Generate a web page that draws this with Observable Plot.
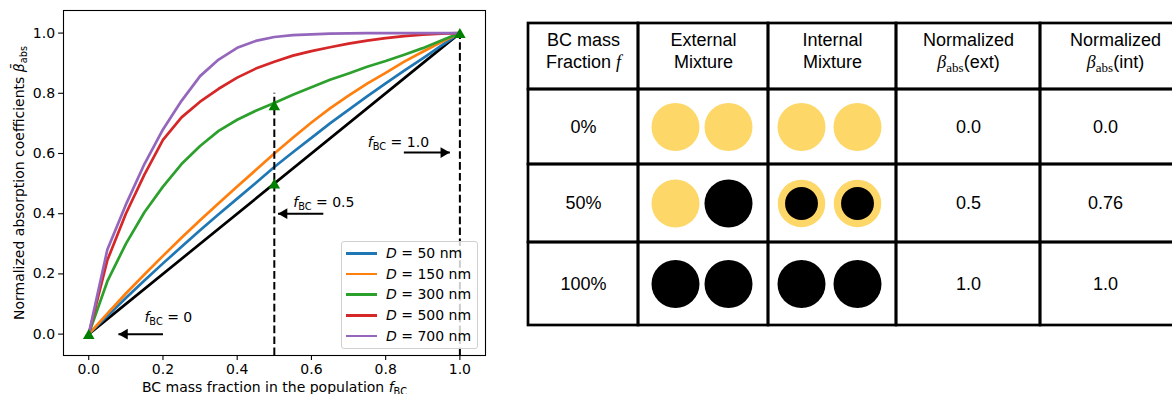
<!DOCTYPE html>
<html><head><meta charset="utf-8">
<script src="https://cdn.jsdelivr.net/npm/d3@7"></script>
<script src="https://cdn.jsdelivr.net/npm/@observablehq/plot@0.6"></script>
<style>
html,body{margin:0;padding:0;background:#fff;overflow:hidden;}
#wrap{position:relative;width:1172px;height:394px;}
#chart{position:absolute;left:0;top:0;}
#table{position:absolute;left:500px;top:0;}
#legend{position:absolute;left:341px;top:241px;width:135px;height:106px;border:1px solid #d0d0d0;border-radius:3px;background:rgba(255,255,255,0.8);font-family:"DejaVu Sans";font-size:14px;color:#000;}
#legend .row{position:absolute;left:0;height:20px;width:100%;}
#legend .sw{position:absolute;left:4px;top:9px;width:31px;height:2.7px;}
#legend .lb{position:absolute;left:44px;top:1px;white-space:nowrap;line-height:18px;}
</style></head><body>
<div id="wrap"><div id="chart"></div><div id="legend"></div><div id="table"></div></div>
<script>
// ---------- DATA ----------
const fGrid   = [0, 0.05, 0.1, 0.15, 0.2, 0.25, 0.3, 0.35, 0.4, 0.45, 0.5, 0.55, 0.6, 0.65, 0.7, 0.75, 0.8, 0.85, 0.9, 0.95, 1];
const diameters = [50, 150, 300, 500, 700];
const beta50  = [0, 0.06, 0.12, 0.178, 0.235, 0.29, 0.345, 0.398, 0.45, 0.502, 0.555, 0.604, 0.652, 0.70, 0.745, 0.79, 0.833, 0.875, 0.916, 0.958, 1];
const beta150 = [0, 0.068, 0.135, 0.198, 0.26, 0.32, 0.378, 0.435, 0.49, 0.545, 0.6, 0.652, 0.703, 0.75, 0.792, 0.832, 0.868, 0.905, 0.938, 0.97, 1];
const beta300 = [0, 0.175, 0.30, 0.405, 0.49, 0.565, 0.625, 0.675, 0.712, 0.742, 0.768, 0.795, 0.82, 0.845, 0.866, 0.888, 0.907, 0.928, 0.95, 0.975, 1];
const beta500 = [0, 0.245, 0.40, 0.53, 0.645, 0.72, 0.772, 0.815, 0.852, 0.882, 0.905, 0.925, 0.94, 0.953, 0.965, 0.975, 0.983, 0.99, 0.995, 0.998, 1];
const beta700 = [0, 0.28, 0.43, 0.565, 0.68, 0.775, 0.857, 0.912, 0.951, 0.974, 0.987, 0.993, 0.996, 0.998, 0.999, 1, 1, 1, 1, 1, 1];
const externalLine = [0, 1];            // linear external-mixture reference, at f = 0 and 1
const markerF    = [0, 0.5, 0.5, 1];    // green triangle markers
const markerBeta = [0, 0.5, 0.76, 1];
const guideF   = [0.5, 1.0];            // dashed verticals
const guideTop = [0.8, 1.0];
const annLabels = ["*f*_{BC} = 0", "*f*_{BC} = 0.5", "*f*_{BC} = 1.0"];
const annTextF  = [0.15, 0.551, 0.752];
const annTextB  = [0.056, 0.438, 0.638];
const arrowFrom = [0.2, 0.632, 0.849];
const arrowTo   = [0.08, 0.51, 0.973];
const arrowB    = [0, 0.40, 0.603];
const xTicks = [0, 0.2, 0.4, 0.6, 0.8, 1.0];
const yTicks = [0, 0.2, 0.4, 0.6, 0.8, 1.0];
const xLabel = "BC mass fraction in the population *f*_{BC}";
const yLabel = "Normalized absorption coefficients *β\u0304*_{abs}";

// table data
const tableHeaders = ["BC mass\nFraction *f*", "External\nMixture", "Internal\nMixture", "Normalized\n*β*_{abs}(ext)", "Normalized\n*β*_{abs}(int)"];
const fractions = ["0%", "50%", "100%"];
const externalParticles = [["shell", "shell"], ["shell", "bc"], ["bc", "bc"]];
const internalParticles = [["shell", "shell"], ["coated", "coated"], ["bc", "bc"]];
const betaExt = ["0.0", "0.5", "1.0"];
const betaInt = ["0.0", "0.76", "1.0"];

// ---------- STYLE / LAYOUT ----------
const lineColors = ["#1f77b4", "#ff7f0e", "#2ca02c", "#d62728", "#9467bd"];
const yellow = "#fdd768";
const colW = [110, 130, 128, 144, 150];
const rowH = [66, 75, 78, 83];

const NS = "http://www.w3.org/2000/svg";
function richify(root, o) {
  const nodes = Array.from(root.querySelectorAll("text, tspan"));
  for (const node of nodes) {
    if (node.children.length) continue;
    const s = node.textContent;
    if (!/\*|_\{/.test(s)) continue;
    const parts = s.split(/(\*[^*]+\*|_\{[^}]+\})/).filter(p => p !== "");
    node.textContent = "";
    let shift = 0;
    for (const p of parts) {
      const t = document.createElementNS(NS, "tspan");
      let target = 0;
      if (p[0] === "*") {
        t.textContent = p.slice(1, -1);
        t.setAttribute("font-style", "italic");
        if (o.italicFamily) t.setAttribute("font-family", o.italicFamily);
      } else if (p.startsWith("_{")) {
        t.textContent = p.slice(2, -1);
        t.setAttribute("font-size", o.subSize);
        if (o.subFamily) t.setAttribute("font-family", o.subFamily);
        target = o.subShift;
      } else t.textContent = p;
      if (target !== shift) { t.setAttribute("dy", target - shift); shift = target; }
      node.appendChild(t);
    }
  }
}

// ---------- CHART ----------
const series = [beta50, beta150, beta300, beta500, beta700];
const curves = diameters.flatMap((D, i) => fGrid.map((f, j) => ({D, f, b: series[i][j]})));
const markers = markerF.map((f, i) => ({f, b: markerBeta[i]}));
const guides = guideF.map((f, i) => ({f, top: guideTop[i]}));
const anns = annLabels.map((label, i) => ({label, f: annTextF[i], b: annTextB[i]}));
const arrows = arrowFrom.map((f1, i) => ({f1, f2: arrowTo[i], b: arrowB[i]}));
const xDom = [-0.068, 1.069], yDom = [-0.071, 1.075];

const chart = Plot.plot({
  width: 500, height: 394,
  marginLeft: 63, marginRight: 15, marginTop: 10, marginBottom: 39,
  style: {fontFamily: "DejaVu Sans", fontSize: "14px", color: "#000", background: "#fff"},
  x: {domain: xDom},
  y: {domain: yDom},
  color: {domain: diameters, range: lineColors},
  marks: [
    Plot.axisX({ticks: xTicks, tickFormat: d => d.toFixed(1), tickSize: 4.9, tickPadding: 4, strokeWidth: 1.1, label: null, fontSize: 14}),
    Plot.axisY({ticks: yTicks, tickFormat: d => d.toFixed(1), tickSize: 4.9, tickPadding: 3.5, strokeWidth: 1.1, label: null, fontSize: 14}),
    Plot.line(externalLine, {x: d => d, y: d => d, stroke: "#000", strokeWidth: 2.7}),
    Plot.line(curves, {x: "f", y: "b", z: "D", stroke: "D", strokeWidth: 2.7, curve: "linear"}),
    Plot.ruleX(guides, {x: "f", y1: yDom[0], y2: "top", stroke: "#000", strokeWidth: 2, strokeDasharray: "7.6,3.3"}),
    Plot.dot(markers, {x: "f", y: "b", symbol: "triangle", r: 4.3, fill: "green", stroke: "none", dy: 1.6}),
    Plot.link(arrows, {x1: "f1", x2: "f2", y1: "b", y2: "b", stroke: "#000", strokeWidth: 2}),
    Plot.dot(arrows.filter(a => a.f2 < a.f1), {x: "f2", y: "b", symbol: "triangle", r: 4, rotate: -90, dx: 6.2, fill: "#000", stroke: "none"}),
    Plot.dot(arrows.filter(a => a.f2 > a.f1), {x: "f2", y: "b", symbol: "triangle", r: 4, rotate: 90, dx: -6.2, fill: "#000", stroke: "none"}),
    Plot.text(anns, {x: "f", y: "b", text: "label", textAnchor: "start", fontSize: 14, fill: "#000"}),
    Plot.text([xLabel], {frameAnchor: "bottom", dy: 32, lineAnchor: "middle", textAnchor: "middle", fontSize: 14, fill: "#000"}),
    Plot.text([yLabel], {frameAnchor: "left", rotate: -90, dx: -44, textAnchor: "middle", lineAnchor: "middle", fontSize: 14, fill: "#000"}),
    Plot.frame({stroke: "#000", strokeWidth: 1.1})
  ]
});
richify(chart, {subSize: "9.8px", subShift: 3.2});
document.getElementById("chart").appendChild(chart);

// legend
const leg = document.getElementById("legend");
diameters.forEach((D, i) => {
  const row = document.createElement("div");
  row.className = "row"; row.style.top = (1 + i * 20.7) + "px";
  row.innerHTML = `<span class="sw" style="background:${lineColors[i]}"></span><span class="lb"><i>D</i> = ${D} nm</span>`;
  leg.appendChild(row);
});

// ---------- TABLE ----------
const colEdges = [0]; colW.forEach(w => colEdges.push(colEdges[colEdges.length - 1] + w));
const rowEdges = [0]; rowH.forEach(h => rowEdges.push(rowEdges[rowEdges.length - 1] + h));
const cx = c => (colEdges[c] + colEdges[c + 1]) / 2;
const cy = r => (rowEdges[r] + rowEdges[r + 1]) / 2;
const cells = [];
for (let r = 0; r < rowH.length; r++) for (let c = 0; c < colW.length; c++)
  cells.push({x1: colEdges[c], x2: colEdges[c + 1], y1: rowEdges[r], y2: rowEdges[r + 1]});
const headerCells = tableHeaders.map((t, c) => ({t, x: cx(c), y: cy(0)}));
const bodyText = fractions.flatMap((fr, i) => [
  {t: fr, x: cx(0), y: cy(i + 1)},
  {t: betaExt[i], x: cx(3), y: cy(i + 1)},
  {t: betaInt[i], x: cx(4) - 10, y: cy(i + 1)}
]);
const particles = [];
fractions.forEach((fr, i) => {
  externalParticles[i].forEach((type, k) => particles.push({type, x: cx(1) - 1.5 + (k - 0.5) * 53, y: cy(i + 1)}));
  internalParticles[i].forEach((type, k) => particles.push({type, x: cx(2) - 3 + (k - 0.5) * 56, y: cy(i + 1)}));
});
const totalW = colEdges[colEdges.length - 1], totalH = rowEdges[rowEdges.length - 1];

const table = Plot.plot({
  width: 672, height: 394, margin: 0,
  style: {fontFamily: "Liberation Sans", fontSize: "18px", color: "#000", background: "#fff"},
  x: {type: "linear", domain: [0, totalW], range: [28, 28 + totalW], axis: null},
  y: {type: "linear", domain: [0, totalH], range: [23, 23 + totalH], axis: null},
  marks: [
    Plot.dot(particles.filter(p => p.type === "shell"), {x: "x", y: "y", r: 24, fill: yellow}),
    Plot.dot(particles.filter(p => p.type === "bc"), {x: "x", y: "y", r: 24, fill: "#000"}),
    Plot.dot(particles.filter(p => p.type === "coated"), {x: "x", y: "y", r: 20.1, fill: "#000", stroke: yellow, strokeWidth: 7.3}),
    Plot.rect(cells, {x1: "x1", x2: "x2", y1: "y1", y2: "y2", fill: "none", stroke: "#000", strokeWidth: 2.7}),
    Plot.text(headerCells, {x: "x", y: "y", text: "t", dy: -7, fontSize: 18, lineHeight: 1.22, fill: "#000"}),
    Plot.text(bodyText, {x: "x", y: "y", text: "t", fontSize: 18, fill: "#000"})
  ]
});
richify(table, {italicFamily: "Liberation Serif", subFamily: "Liberation Serif", subSize: "13px", subShift: 4.5});
document.getElementById("table").appendChild(table);
</script>
</body></html>
